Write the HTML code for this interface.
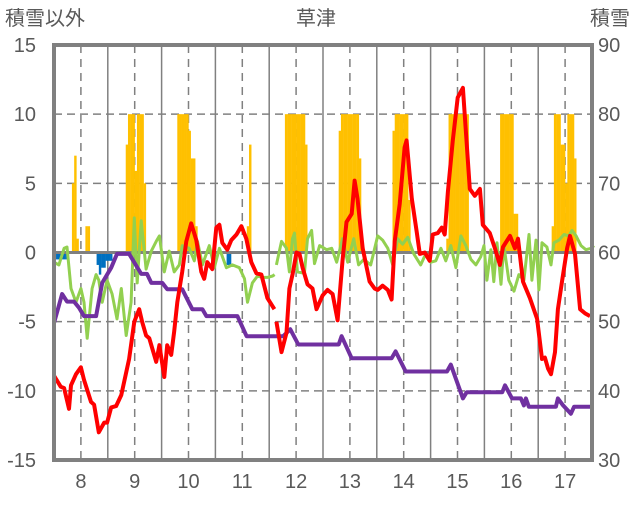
<!DOCTYPE html>
<html><head><meta charset="utf-8"><style>
body{margin:0;background:#fff;}
svg text{font-family:"Liberation Sans","Noto Sans CJK JP",sans-serif;fill:#595959;}
</style></head><body>
<svg id="chart" width="636" height="501" viewBox="0 0 636 501"></svg>
<script>
// ---- data ----
const dayLabels=["8","9","10","11","12","13","14","15","16","17"];
const leftTicks=[15,10,5,0,-5,-10,-15];
const rightTicks=[90,80,70,60,50,40,30];
const snowHours=[8,9,10,14,15,32,33,34,35,36,37,38,39,40,55,56,57,58,59,60,61,62,63,86,87,103,104,105,106,107,108,109,110,111,112,127,128,129,130,131,132,133,134,135,136,151,152,153,154,155,156,157,158,175,176,177,178,179,180,181,182,183,184,199,200,201,202,203,204,205,206,222,223,224,225,226,227,228,229,230,231,232];
const snowValues=[5,7,1,1.9,1.9,7.8,10,10,10,5.9,10,10,10,5,10,10,10,10,10,8.8,6.8,6.8,1.9,1.9,7.8,10,10,10,10,10,10,10,10,10,7.8,8.8,10,10,10,10,10,10,10,10,6.8,8.8,10,10,10,10,10,10,3.8,1,10,10,10,10,10,10,10,10,10,10,10,10,10,10,10,2.8,2.8,1.9,10,10,10,7.8,7.8,5,10,10,10,6.8];
const negHours=[0,1,2,3,4,5,19,20,21,22,23,24,25,77,78];
const negValues=[-0.5,-0.5,-0.5,-0.5,-0.5,-0.5,-0.9,-1.6,-1.1,-1.1,-0.6,-0.6,-0.6,-0.9,-0.9];
const tempHours=[0,3,4.5,6.7,7.6,9.8,12,13.4,16.5,17.9,20,22.4,23.7,25.5,27.7,30,33.5,35.8,38,39.3,41.1,42.5,45.6,47,49.2,50.5,52.3,53.6,55,57.2,59,61.2,63.5,65.7,67,68.4,70.6,72.4,73.8,75.1,77.3,79.1,81.4,83.6,85.8,88,90.3,92.5,95.2,98.3,null,99.2,101.5,103.7,105,106.4,108.2,109.5,110.9,113.1,115.3,117.1,119.8,122,124.3,126.5,128.7,130.5,132.8,134.1,135.4,137.7,139.5,140.8,143,144.4,146.6,148.9,150.6,152,154.2,156.4,157.3,159.6,161.8,163.2,165.4,167.6,169,171.2,173,174.3,175.7,177.9,180.1,182.4,185.5,187.7,190,191.3,194.4,196.7,198.9,200.3,203.4,205.6,207,209.2,212.3,215.5,217.7,219,220.4,221.7,223.5,224.8,226.6,228.9,230.2,232.4,234.7,236.9,239.1];
const tempValues=[-8.9,-9.7,-9.8,-11.3,-9.6,-8.8,-8.3,-9.2,-10.8,-11,-13,-12.3,-12.3,-11.2,-11.1,-10.3,-7.7,-5,-4.1,-5,-6,-6.2,-7.9,-6.7,-9,-6.7,-7.4,-5.7,-3.6,-1.4,0.8,2.1,0.9,-1.4,-1.9,-0.7,-1.2,1.8,2,0.7,0.2,0.9,1.3,1.9,1,-0.7,-1.5,-1.6,-3.3,-4.1,null,-5,-7.2,-5.8,-2.6,-1.6,0,-0.1,-1.1,-2.3,-2.6,-4.1,-3.1,-2.7,-3,-4.9,-0.6,2.2,2.8,5.2,3.9,0.3,-1.1,-2.1,-2.6,-2.7,-2.4,-2.7,-3.4,0.8,3.5,7.6,8.1,3.9,1.5,-0.1,0,-0.6,1.3,1.4,1.8,1.3,4.4,8.1,11.2,11.9,4.6,4.1,4.6,2,1.4,0.3,-0.9,0.4,1.2,0.3,1,-2.1,-3.3,-4.8,-7.7,-7.6,-8.4,-8.8,-7.2,-4.1,-2.1,0.3,1.2,-0.1,-4.1,-4.4,-4.6];
const greenHours=[0,2.2,4.5,5.8,7.6,9.8,12,13.4,14.8,17,18.8,20,21.5,23.7,25.9,28.1,30,32.2,34.4,35.8,37.1,38.9,41.1,43.4,45.6,47,49.2,51.4,53.6,55.9,57.2,60.3,62.6,64,66.2,69.3,71.5,73.8,76.9,79.6,82.7,85,86.3,88.5,90.8,93,95.2,97.5,98.4,null,99.2,101.5,103.7,105,106.4,107.3,108.6,111.7,113.1,114.9,116.2,118.5,121.6,123.9,126.1,128.7,131,133.7,135.9,138.2,141.3,144.4,146.6,148.9,151.1,153.3,155.5,157.8,160.5,163.6,165.8,168.1,170.3,172.6,174.8,177,179.3,181.5,183.7,186,188.2,190.4,191.8,193.1,194.9,196.2,197.6,199.4,200.7,202.9,205.2,207.4,209.6,211.9,213.2,215,216.3,217.7,219.9,221.7,223,225.3,227.5,229.7,231.1,232.9,235.1,237.3,239.6,240.9];
const greenValues=[-0.7,-0.9,0.3,0.4,-2.6,-3.6,-2.6,-3.6,-6.2,-2.6,-1.6,-2,-3.6,-2,-3,-4.8,-2.6,-6,-3.6,2.5,-2.2,2.3,-1.2,0.1,0.8,1.2,-1.4,0.1,-1.4,-0.9,0.5,0.3,-0.6,0.8,-0.9,0.5,-1.1,0.3,-1.1,-0.9,-1.1,-1.9,-3.6,-2.2,-1.7,-1.8,-1.8,-1.7,-1.6,null,-0.9,0.8,0.3,-1.4,1,1.4,-1.4,-1.5,1,1.6,-0.8,0.5,0.2,0.3,-0.7,1,-0.7,1,-0.9,-0.5,-0.9,1.2,0.9,0.3,-0.9,1,0.6,1.1,-0.1,-0.9,-0.1,-0.7,-0.6,0.3,-0.6,0.5,-1.1,1.2,0.5,-0.5,-0.9,-0.3,0.5,-2,0.2,-2.1,0.7,-2.3,0.5,-2,-2.8,-1.6,-2,1.3,-2,0.9,-2.7,0.7,0.4,-0.9,0.7,0.9,1.3,1.2,1.6,1.2,0.5,0.2,0.3,0.5];
const depthHours=[0,3.6,5.8,8.9,11.2,13.4,18.8,21.5,25.5,28.1,33.5,38.9,41.5,43.4,48.3,50.5,57.2,61.7,66.2,68,81.8,85.9,102.2,105.4,109,127,128.3,132.8,150.6,152.4,156.9,175.3,177,182.4,184.1,200,201.2,204.3,208.3,209.6,210.5,211.8,223.9,224.8,227.1,230.6,232,240];
const depthValues=[49.8,54,52.9,52.9,52,50.8,50.8,55.6,57.8,59.8,59.8,56.9,56.9,55.6,55.6,54.7,54.7,51.8,51.8,50.8,50.8,47.9,47.9,48.9,46.7,46.7,47.9,44.7,44.7,45.7,42.8,42.8,43.8,38.9,39.8,39.8,40.8,38.9,38.9,37.9,38.9,37.7,37.7,38.9,37.9,36.7,37.7,37.7];

// ---- axes ----
const X0=54,X1=592,Y0=45,Y1=460,HOURS=240;
const xs=h=>X0+h*(X1-X0)/HOURS;
const yL=v=>Y0+(15-v)*(Y1-Y0)/30;
const yR=v=>Y0+(90-v)*(Y1-Y0)/60;
const NS="http://www.w3.org/2000/svg";
const svg=document.getElementById('chart');
function mk(tag,at,parent){const e=document.createElementNS(NS,tag);for(const k in at)e.setAttribute(k,at[k]);(parent||svg).appendChild(e);return e;}

// grid
const grid=mk('g',{});


leftTicks.forEach(v=>{ if(v!==15&&v!==-15&&v!==0) mk('line',{x1:X0,x2:X1,y1:yL(v),y2:yL(v),stroke:'#808080','stroke-width':1.5,'stroke-dasharray':'8,5'},grid);});
for(let d=0;d<10;d++){
  mk('line',{x1:xs(d*24+12),x2:xs(d*24+12),y1:Y0,y2:Y1,stroke:'#808080','stroke-width':1.5,'stroke-dasharray':'8,6'},grid);
  if(d>0) mk('line',{x1:xs(d*24),x2:xs(d*24),y1:Y0,y2:Y1,stroke:'#808080','stroke-width':1.5},grid);
}
// bars
const bw=(X1-X0)/HOURS;
const barsG=mk('g',{});


snowHours.forEach((h,i)=>{const b=mk('rect',{x:xs(h),y:yL(snowValues[i]),width:bw+0.2,height:yL(0)-yL(snowValues[i]),fill:'#FFC000'},barsG);

});
const negG=mk('g',{});


negHours.forEach((h,i)=>{const b=mk('rect',{x:xs(h),y:yL(0),width:bw+0.2,height:yL(negValues[i])-yL(0),fill:'#0070C0'},negG);

});
// zero line
const z=mk('line',{x1:X0,x2:X1,y1:yL(0),y2:yL(0),stroke:'#808080','stroke-width':3});


// lines
function path(hs,vs,yf){let d='',pen=false;hs.forEach((h,i)=>{if(h===null||vs[i]===null){pen=false;return;}d+=(pen?'L':'M')+xs(h).toFixed(1)+','+yf(vs[i]).toFixed(1);pen=true;});return d;}
const g1=mk('path',{d:path(greenHours,greenValues,yL),fill:'none',stroke:'#92D050','stroke-width':3,'stroke-linejoin':'round'});


const p1=mk('path',{d:path(depthHours,depthValues,yR),fill:'none',stroke:'#7030A0','stroke-width':4,'stroke-linejoin':'round'});


const r1=mk('path',{d:path(tempHours,tempValues,yL),fill:'none',stroke:'#FF0000','stroke-width':4,'stroke-linejoin':'round'});


// frame
const fr=mk('rect',{x:X0,y:Y0,width:X1-X0,height:Y1-Y0,fill:'none',stroke:'#808080','stroke-width':4});


// tick labels
leftTicks.forEach(v=>{const t=mk('text',{x:36,y:yL(v)+7,'text-anchor':'end','font-size':20});t.textContent=String(v);

});
rightTicks.forEach(v=>{const t=mk('text',{x:598,y:yR(v)+7,'font-size':20});t.textContent=String(v);

});
dayLabels.forEach((l,i)=>{const t=mk('text',{x:xs(i*24+12),y:488,'text-anchor':'middle','font-size':20});t.textContent=l;

});
// titles
const tt=mk('text',{x:316,y:25,'text-anchor':'middle','font-size':20});tt.textContent='草津';


const lt=mk('text',{x:5,y:25,'font-size':20});lt.textContent='積雪以外';


const rt=mk('text',{x:590,y:25,'font-size':20});rt.textContent='積雪';


</script>
</body></html>
